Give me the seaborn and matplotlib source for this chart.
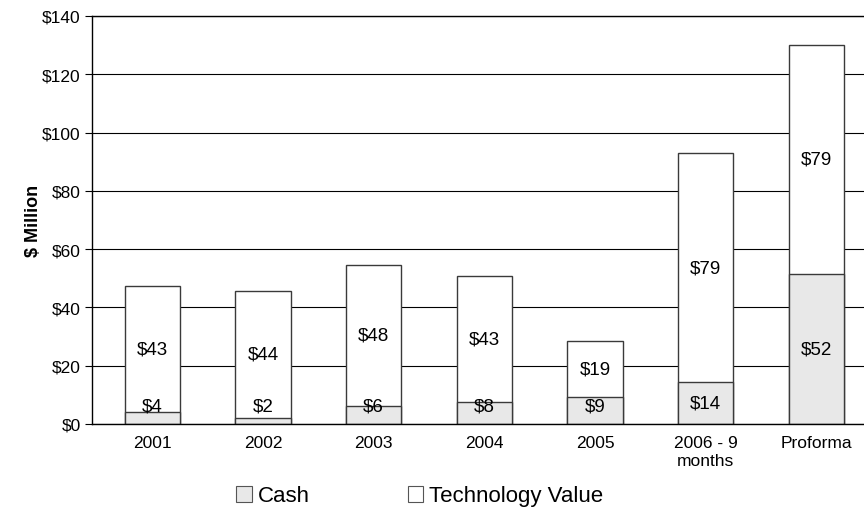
import matplotlib
matplotlib.use("Agg")
import matplotlib.pyplot as plt
from matplotlib.patches import Patch
import seaborn as sns
import pandas as pd
import numpy as np

categories = ["2001", "2002", "2003", "2004", "2005", "2006 - 9\nmonths", "Proforma"]
cash = [4.2, 2.2, 6.3, 7.7, 9.2, 14.3, 51.5]
tech = [43.1, 43.6, 48.3, 43.1, 19.3, 78.6, 78.7]
cash_labels = ["$4", "$2", "$6", "$8", "$9", "$14", "$52"]
tech_labels = ["$43", "$44", "$48", "$43", "$19", "$79", "$79"]
y_ticks = [0, 20, 40, 60, 80, 100, 120, 140]

sns.set_style("white")
plt.rcParams["font.family"] = ["Liberation Sans", "DejaVu Sans"]
plt.rcParams["text.color"] = "black"
plt.rcParams["xtick.color"] = "black"
plt.rcParams["ytick.color"] = "black"
plt.rcParams["axes.labelcolor"] = "black"

df = pd.DataFrame({"cat": categories, "cash": cash, "tech": tech})
df["total"] = df["cash"] + df["tech"]

fig = plt.figure(figsize=(8.64, 5.10), dpi=100)
ax = fig.add_axes([92 / 864, 1 - 425 / 510, 1 - 92 / 864, (425 - 17) / 510])

edge = "#3a3a3a"
sns.barplot(data=df, x="cat", y="total", color="white", saturation=1,
            edgecolor=edge, linewidth=1.0, width=0.5, ax=ax, zorder=2)
sns.barplot(data=df, x="cat", y="cash", color="#e8e8e8", saturation=1,
            edgecolor=edge, linewidth=1.0, width=0.5, ax=ax, zorder=2)

n = len(categories)
ax.set_ylim(0, 140)
ax.set_xlim(-0.545, 6.43)
ax.set_yticks(y_ticks)
ax.set_yticklabels([f"${v}" for v in y_ticks], fontsize=12.5)
ax.yaxis.grid(True, color="black", linewidth=0.8)
ax.xaxis.grid(False)
ax.set_axisbelow(True)

ax.set_xticks(range(n))
ax.set_xticklabels(categories, fontsize=12.5)
ax.tick_params(axis="x", which="major", length=0, pad=8)
ax.set_xticks(np.arange(0.5, n - 0.5, 1.0), minor=True)
ax.tick_params(axis="x", which="minor", length=5, direction="out", color="black", width=0.8)
ax.tick_params(axis="y", length=5, direction="out", color="black", width=0.8, pad=3,
               left=True)
ax.set_xlabel("")
ax.set_ylabel("$ Million", fontsize=13, fontweight="bold", labelpad=0)

ax.spines["right"].set_visible(False)
for s in ["left", "bottom", "top"]:
    ax.spines[s].set_visible(True)
    ax.spines[s].set_color("black")
    ax.spines[s].set_linewidth(1.0)

for i in range(n):
    yc = max(cash[i] / 2, 6.3)
    ax.text(i, yc, cash_labels[i], ha="center", va="center", fontsize=13.5, zorder=5)
    yt = cash[i] + tech[i] / 2
    ax.text(i, yt, tech_labels[i], ha="center", va="center", fontsize=13.5, zorder=5)

handles = [Patch(facecolor="#e8e8e8", edgecolor="#555555", linewidth=0.8, label="Cash"),
           Patch(facecolor="white", edgecolor="#555555", linewidth=0.8, label="Technology Value")]
fig.legend(handles=handles, loc="center", bbox_to_anchor=(0.486, 1 - 497 / 510), ncol=2,
           frameon=False, fontsize=16, handlelength=0.7, handleheight=0.7,
           handletextpad=0.27, columnspacing=4.4, borderpad=0, borderaxespad=0)

fig.savefig("out.png", dpi=100)
